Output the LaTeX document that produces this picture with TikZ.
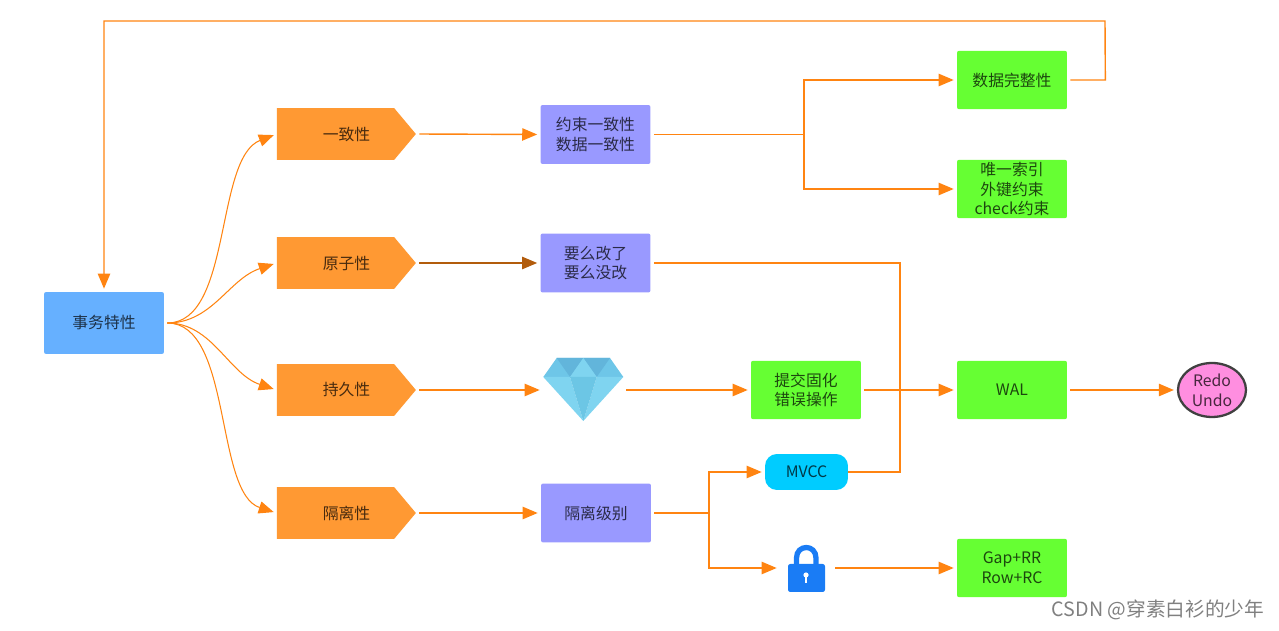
\documentclass[tikz,border=0pt]{standalone}
\usepackage{fontspec}
\setmainfont{Noto Sans CJK SC}
\usetikzlibrary{arrows.meta,shapes.symbols,shapes.geometric}
\definecolor{lineorange}{HTML}{FF8411}
\definecolor{tagorange}{HTML}{FF9933}
\definecolor{rootblue}{HTML}{66B0FF}
\definecolor{boxpurple}{HTML}{9999FF}
\definecolor{boxgreen}{HTML}{66FF33}
\definecolor{pillcyan}{HTML}{00CCFF}
\definecolor{blobpink}{HTML}{FF8EE0}
\definecolor{lockblue}{HTML}{1A7CF5}
\definecolor{gemband}{HTML}{6EC6E8}
\definecolor{gemdark}{HTML}{62B5DB}
\definecolor{gemside}{HTML}{7FD4F0}
\definecolor{gemmid}{HTML}{6CC6E5}
\tikzset{
  label/.style={font=\fontsize{9}{11.3}\selectfont, align=center, text=black, text opacity=0.72, inner sep=0pt},
  rootbox/.style={label, fill=rootblue, rounded corners=1.2pt, minimum width=2.4cm, minimum height=1.24cm},
  tagbox/.style={label, fill=tagorange, signal, signal to=east, signal pointer angle=100, minimum width=2.78cm, minimum height=1.04cm, execute at begin node=\hspace*{0.44cm}},
  purplebox/.style={label, fill=boxpurple, rounded corners=1.2pt, minimum width=2.2cm, minimum height=1.18cm},
  greenbox/.style={label, fill=boxgreen, rounded corners=1.2pt, minimum width=2.2cm, minimum height=1.17cm},
  wire/.style={draw=lineorange, line width=0.8pt, shorten <=1.7pt},
  conn/.style={wire, -{Triangle[length=8.5pt,width=7pt]}, shorten >=1.7pt},
  curve/.style={conn, line width=0.6pt},
}
\begin{document}
\begin{tikzpicture}[x=0.02cm,y=-0.02cm]
\useasboundingbox (0,0) rectangle (1279,631);

\node[rootbox] (txn) at (104,323) {事务特性};
\node[tagbox] (consist) at (335.5,134) {一致性};
\node[tagbox] (atomic) at (335.5,263) {原子性};
\node[tagbox] (durable) at (335.5,390) {持久性};
\node[tagbox] (isolate) at (335.5,513) {隔离性};

\node[purplebox] (consbox) at (595.5,134.5) {约束一致性\\数据一致性};
\node[purplebox] (atombox) at (595.5,263) {要么改了\\要么没改};
\node[purplebox] (isobox) at (596,513) {隔离级别};

\node[greenbox] (intact) at (1012,80) {数据完整性};
\node[greenbox] (keys) at (1012,189) {唯一索引\\外键约束\\check约束};
\node[greenbox] (commit) at (806,390) {提交固化\\错误操作};
\node[greenbox] (wal) at (1012,390) {WAL};
\node[greenbox] (gaprow) at (1012,568) {Gap+RR\\Row+RC};

\node[label, fill=pillcyan, rounded corners=6.8pt, minimum width=1.66cm, minimum height=0.72cm] (mvcc) at (806.5,472) {MVCC};
\node[label, ellipse, fill=blobpink, draw=black!75, line width=1.3pt, minimum width=1.36cm, minimum height=1.08cm] (redo) at (1212,390) {Redo\\Undo};

% diamond
\node[inner sep=0pt, minimum width=1.6cm, minimum height=1.2cm] (gem) at (583,390) {};
\fill[gemband] (556.7,358) -- (610,358) -- (623.3,377) -- (543.3,377) -- cycle;
\fill[gemdark] (556.7,358) -- (583.3,358) -- (570,377) -- cycle;
\fill[gemdark] (583.3,358) -- (610,358) -- (596.7,377) -- cycle;
\fill[gemside] (583.3,358) -- (596.7,377) -- (570,377) -- cycle;
\fill[gemside] (543.3,377) -- (570,377) -- (583.3,421) -- cycle;
\fill[gemside] (623.3,377) -- (596.7,377) -- (583.3,421) -- cycle;
\fill[gemmid] (570,377) -- (596.7,377) -- (583.3,421) -- cycle;

% lock
\node[inner sep=0pt, minimum width=1.04cm, minimum height=0.94cm] (lock) at (806,568) {};
\draw[lockblue, line width=3pt] (796.5,566) -- (796.5,558) .. controls (796.5,544) and (816,544) .. (816,558) -- (816,566);
\fill[lockblue, rounded corners=1.3pt] (788,564) rectangle (825,592);
\fill[white] (806,575) circle (2.6);
\draw[white, line width=1pt] (806,575) -- (806,583);

% connectors
\draw[curve] (txn.east) .. controls +(68,0) and +(-62,24) .. (consist.west);
\draw[curve] (txn.east) .. controls +(48,0) and +(-48,16) .. (atomic.west);
\draw[curve] (txn.east) .. controls +(48,0) and +(-48,-16) .. (durable.west);
\draw[curve] (txn.east) .. controls +(68,0) and +(-62,-20) .. (isolate.west);

\draw[conn] (consist.east) -- (consbox.west);
\draw[conn, draw=lineorange!70!black] (atomic.east) -- (atombox.west);
\draw[conn] (durable.east) -- (gem.west);
\draw[conn] (isolate.east) -- (isobox.west);

\coordinate (splitcons) at (804,134.5);
\draw[wire] (consbox.east) -- (splitcons);
\draw[conn, shorten <=0pt] (splitcons) |- (intact.west);
\draw[conn, shorten <=0pt] (splitcons) |- (keys.west);
\draw[conn] (intact.east) -- ++(38,0) -- (1105,21) -| (txn.north);

\coordinate (joinmvcc) at (900,472);
\draw[wire] (atombox.east) -| (joinmvcc) -- (mvcc.east);
\draw[conn] (gem.east) -- (commit.west);
\draw[conn] (commit.east) -- (wal.west);
\draw[conn] (wal.east) -- (redo.west);

\coordinate (splitiso) at (709,513);
\draw[wire] (isobox.east) -- (splitiso);
\draw[conn, shorten <=0pt] (splitiso) |- (mvcc.west);
\draw[conn, shorten <=0pt] (splitiso) |- (lock.west);
\draw[conn] (lock.east) -- (gaprow.west);

\node[font=\fontsize{11.2}{13}\selectfont, text=black!50, inner sep=0pt] (mark) at (1158,610) {CSDN @穿素白衫的少年};
\end{tikzpicture}
\end{document}
